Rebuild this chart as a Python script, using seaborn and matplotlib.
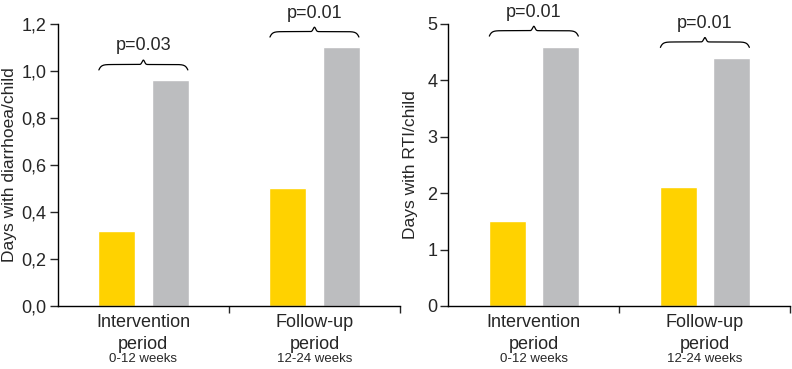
import numpy as np
import pandas as pd
import seaborn as sns
import matplotlib
matplotlib.use("Agg")
import matplotlib.pyplot as plt
from matplotlib.ticker import FuncFormatter

periods = ["Intervention\nperiod", "Follow-up\nperiod"]
weeks = ["0-12 weeks", "12-24 weeks"]
groups = ["Intervention", "Control"]
diarrhoea = {"Intervention": [0.32, 0.50], "Control": [0.96, 1.10]}
rti = {"Intervention": [1.5, 2.1], "Control": [4.6, 4.4]}
p_diarrhoea = ["p=0.03", "p=0.01"]
p_rti = ["p=0.01", "p=0.01"]

colors = ["#FFD200", "#BCBDBF"]

sns.set_style("white")
plt.rcParams["font.family"] = ["Liberation Sans", "DejaVu Sans"]


def to_long(d):
    rows = []
    for g in groups:
        for i, p in enumerate(periods):
            rows.append({"period": p, "group": g, "value": d[g][i]})
    return pd.DataFrame(rows)


def brace(ax, x0, x1, y, h):
    # curly brace drawn as a path over two bars
    t = np.linspace(0, 1, 200)
    xs = x0 + (x1 - x0) * t
    half = np.where(t < 0.5, t, 1 - t)
    ys = y + h * (0.55 * (1 - np.exp(-half * 40)) + 0.45 * np.exp(-((t - 0.5) ** 2) / 0.0004))
    ax.plot(xs, ys, color="black", lw=0.9, clip_on=False)


def panel(ax, d, pvals, ymax, step, ylabel, fmt):
    df = to_long(d)
    sns.barplot(data=df, x="period", y="value", hue="group", palette=colors,
                width=0.625, gap=0.31, ax=ax, legend=False, saturation=1)
    ax.set_xlim(-0.5, 1.5)
    ax.set_ylim(0, ymax)
    ax.set_yticks(np.arange(0, ymax + step / 2, step))
    ax.yaxis.set_major_formatter(FuncFormatter(fmt))
    ax.set_xticks([0, 1])
    ax.set_xticklabels(periods, fontsize=13, linespacing=1.35)
    ax.set_xticks([0.5, 1.5], minor=True)
    ax.tick_params(axis="x", which="major", length=0, pad=6)
    ax.tick_params(axis="x", which="minor", length=5, width=1, direction="out", bottom=True)
    ax.tick_params(axis="y", length=6, width=1, direction="out", left=True, labelsize=13, pad=2)
    for i, w in enumerate(weeks):
        ax.text(i, -0.19 * ymax, w, ha="center", va="center", fontsize=9.5,
                transform=ax.transData, clip_on=False)
    ax.set_xlabel("")
    ax.set_ylabel(ylabel, fontsize=12.5)
    for side in ["top", "right"]:
        ax.spines[side].set_visible(False)
    for side in ["left", "bottom"]:
        ax.spines[side].set_color("black")
        ax.spines[side].set_linewidth(1.0)
    for i in range(len(periods)):
        top = max(d["Intervention"][i], d["Control"][i])
        base = top + 0.037 * ymax
        h = 0.035 * ymax
        brace(ax, i - 0.26, i + 0.26, base, h)
        ax.text(i, base + h + 0.02 * ymax, pvals[i], ha="center", va="bottom",
                fontsize=13, clip_on=False)


fig = plt.figure(figsize=(7.92, 3.69), dpi=100)
ax1 = fig.add_axes([0.073, 0.171, 0.432, 0.764])
ax2 = fig.add_axes([0.566, 0.171, 0.432, 0.764])

panel(ax1, diarrhoea, p_diarrhoea, 1.2, 0.2, "Days with diarrhoea/child",
      lambda v, pos: f"{v:.1f}".replace(".", ","))
panel(ax2, rti, p_rti, 5, 1, "Days with RTI/child",
      lambda v, pos: f"{v:.0f}")

ax1.yaxis.set_label_coords(-0.12, 0.5)
ax2.yaxis.set_label_coords(-0.088, 0.5)

fig.savefig("out.png", dpi=100)
